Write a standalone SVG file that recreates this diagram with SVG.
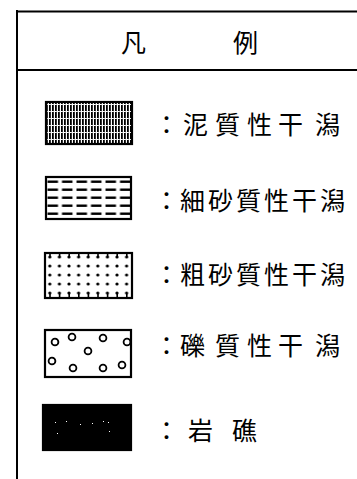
<svg xmlns="http://www.w3.org/2000/svg" width="357" height="479" viewBox="0 0 357 479">
<style>
text{font-family:"Noto Sans CJK JP","Noto Sans CJK SC",sans-serif;fill:#000;font-size:25px}
.frame{stroke:#000;stroke-width:2;fill:none}
.box{stroke:#000;stroke-width:2.2}
.c{fill:none;stroke:#000;stroke-width:1.8}
</style>
<defs>
<pattern id="mud" width="3" height="7" patternUnits="userSpaceOnUse" x="46" y="102">
<rect width="3" height="7" fill="#fff"/>
<rect x="0" y="0" width="1.8" height="7" fill="#000"/>
<rect x="0" y="2" width="1.8" height="1" fill="#fff"/>
</pattern>
<pattern id="dash" width="14.5" height="8" patternUnits="userSpaceOnUse" x="46" y="177">
<rect width="14.5" height="8" fill="#fff"/>
<rect x="1.5" y="3.5" width="10.5" height="2.4" fill="#000"/>
</pattern>
<pattern id="dots" width="9.6" height="9" patternUnits="userSpaceOnUse" x="45" y="262">
<rect width="9.6" height="9" fill="#fff"/>
<circle cx="4.8" cy="4" r="1.6" fill="#000"/>
</pattern>
</defs>
<g id="frame">
<line class="frame" x1="17" y1="10" x2="17" y2="479"/>
<line class="frame" x1="16" y1="11.5" x2="357" y2="11.5"/>
<line class="frame" x1="16" y1="70" x2="357" y2="70"/>
</g>
<g id="title">
<text x="121" y="52">凡</text>
<text x="233" y="52">例</text>
</g>
<g id="mud-flat">
<rect class="box" x="46" y="102" width="86" height="42" fill="url(#mud)"/>
<text x="154" y="134">：</text>
<text x="183 215 247 278 315" y="134">泥質性干潟</text>
</g>
<g id="fine-sand-flat">
<rect class="box" x="46" y="177" width="85" height="42" fill="url(#dash)"/>
<text x="154" y="210">：</text>
<text x="180 208 236 264 292 320" y="210">細砂質性干潟</text>
</g>
<g id="coarse-sand-flat">
<rect class="box" x="45" y="253" width="87" height="45" fill="url(#dots)"/>
<g stroke="#000" stroke-width="1.6">
<path d="M50 254v3.5M59.6 254v3.5M69.2 254v3.5M78.8 254v3.5M88.4 254v3.5M98 254v3.5M107.6 254v3.5M117.2 254v3.5M126.8 254v3.5"/>
<path d="M50 297v-3.5M59.6 297v-3.5M69.2 297v-3.5M78.8 297v-3.5M88.4 297v-3.5M98 297v-3.5M107.6 297v-3.5M117.2 297v-3.5M126.8 297v-3.5"/>
</g>
<text x="154" y="284">：</text>
<text x="180 208 236 264 292 320" y="284">粗砂質性干潟</text>
</g>
<g id="gravel-flat">
<rect class="box" x="45" y="330" width="86" height="47" fill="#fff"/>
<circle class="c" cx="55" cy="342" r="3.4"/>
<circle class="c" cx="72" cy="337" r="3.4"/>
<circle class="c" cx="103" cy="338" r="3.4"/>
<circle class="c" cx="127" cy="342" r="3.4"/>
<circle class="c" cx="88" cy="351" r="3.4"/>
<circle class="c" cx="52" cy="361" r="3.4"/>
<circle class="c" cx="73" cy="368" r="3.4"/>
<circle class="c" cx="103" cy="368" r="3.4"/>
<circle class="c" cx="122" cy="365" r="3.4"/>
<text x="154" y="355">：</text>
<text x="180 215 247 278 315" y="355">礫質性干潟</text>
</g>
<g id="rock-reef">
<rect class="box" x="43" y="405" width="88" height="45" fill="#000"/>
<g fill="#fff">
<rect x="55" y="422" width="1" height="1"/><rect x="66" y="421" width="1" height="1"/>
<rect x="80" y="424" width="1" height="1"/><rect x="92" y="423" width="1" height="1"/>
<rect x="103" y="421" width="1" height="1"/><rect x="108" y="422" width="1" height="1"/>
<rect x="57" y="433" width="1" height="1"/><rect x="109" y="431" width="1" height="1"/>
</g>
<text x="154" y="440">：</text>
<text x="188 232" y="440">岩礁</text>
</g>
</svg>
